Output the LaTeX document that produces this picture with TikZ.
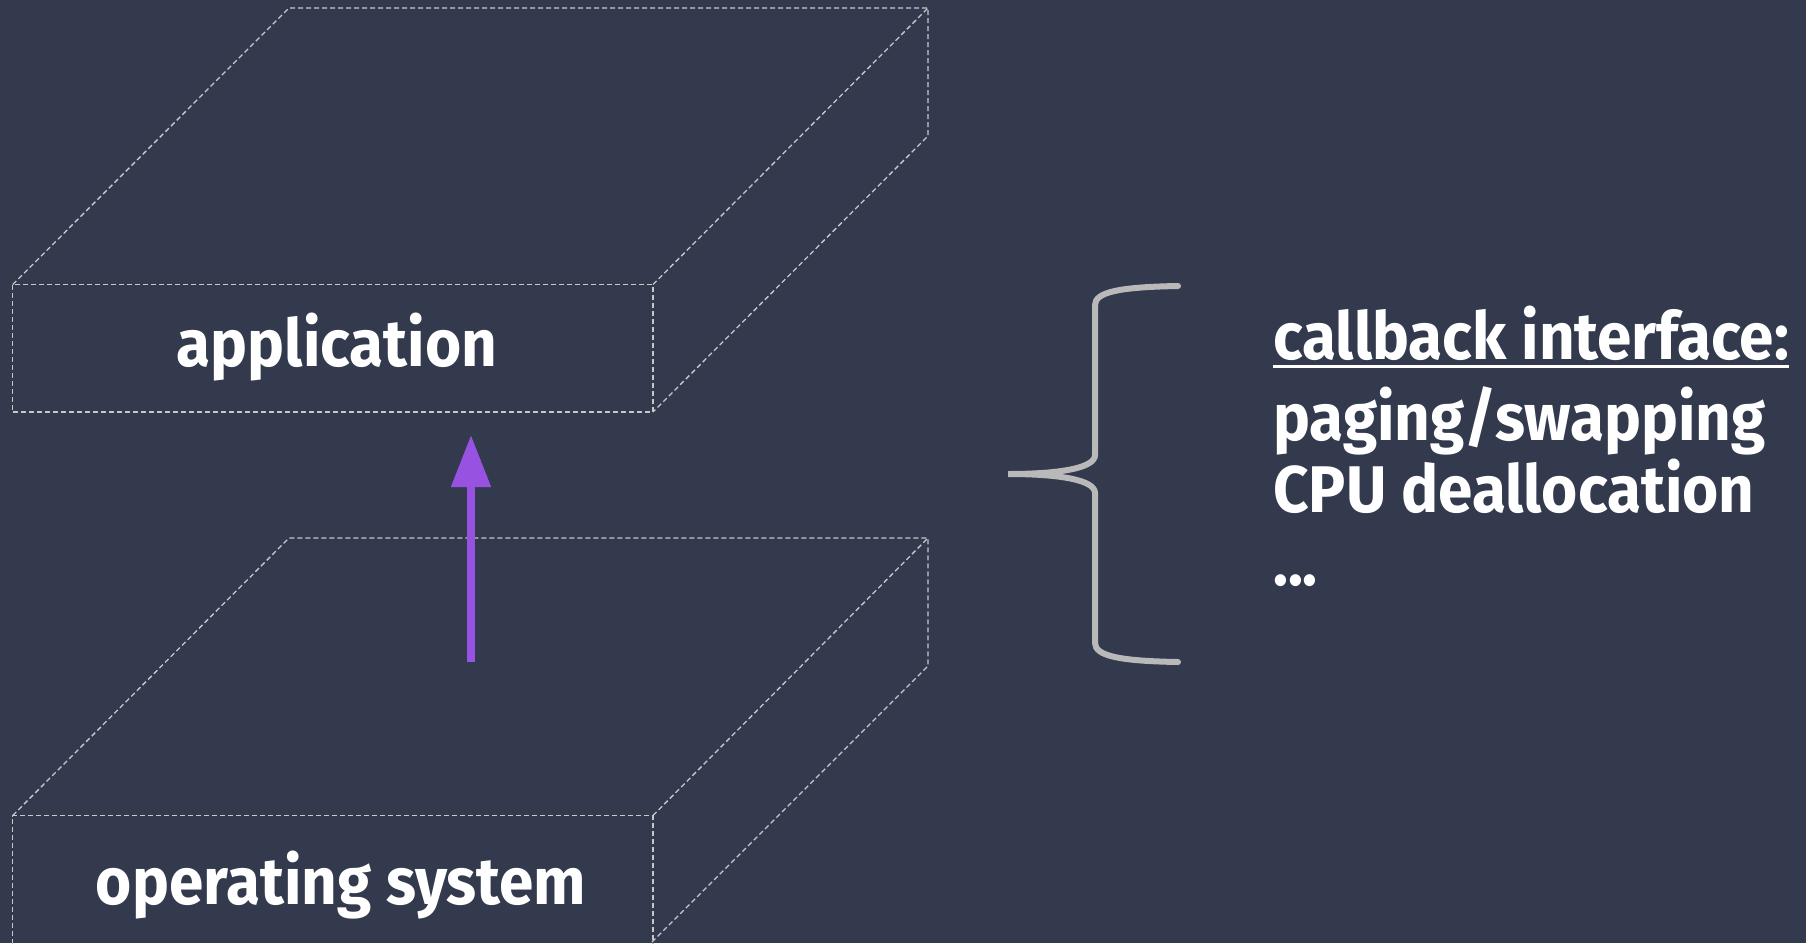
\documentclass[tikz,border=0pt]{standalone}
\usepackage{fontspec}
\setmainfont{Fira Sans}[FakeStretch=0.94]
\usetikzlibrary{arrows.meta,calc}
\definecolor{bgcol}{RGB}{51,58,78}
\definecolor{boxline}{RGB}{200,200,200}
\definecolor{bracecol}{RGB}{185,185,185}
\definecolor{arrowcol}{RGB}{152,82,226}
\begin{document}
\begin{tikzpicture}[x=1pt,y=-1pt,
  dashbox/.style={draw=boxline, dash pattern=on 5pt off 3pt, line width=1.3pt},
  lbl/.style={text=white, font=\fontsize{66}{72}\selectfont\bfseries, inner sep=0pt, anchor=base},
  rlbl/.style={text=white, font=\fontsize{66}{72}\selectfont\bfseries, inner sep=0pt, anchor=base west},
  callarrow/.style={draw=arrowcol, line width=8pt, -{Triangle[width=38pt,length=52pt]}},
  bracestyle/.style={draw=bracecol, line width=6pt, line cap=round}
]
\fill[bgcol] (0,0) rectangle (1806,943);
\useasboundingbox (0,0) rectangle (1806,943);
\clip (0,0) rectangle (1806,943);

% application box
\draw[dashbox] (12.7,284.5) rectangle (653,412);
\draw[dashbox] (12.7,284.5) -- (289,8) -- (928,8) -- (928,136) -- (653,412);
\draw[dashbox] (653,284.5) -- (928,8);
\node[lbl] (app) at (337,366) {application};

% operating system box
\draw[dashbox] (12.7,960) -- (12.7,815.5) -- (653,815.5) -- (653,960);
\draw[dashbox] (12.7,815.5) -- (289,538) -- (928,538) -- (928,666) -- (638,956);
\draw[dashbox] (653,815.5) -- (928,538);
\node[lbl] (os) at (341,904) {operating system};

% arrow
\coordinate (atail) at (471,662);
\coordinate (ahead) at (471,435);
\draw[callarrow] (atail) -- (ahead);

% brace
\coordinate (btop) at (1178,286);
\coordinate (btip) at (1008,474);
\coordinate (bbot) at (1178,662);
\draw[bracestyle] (btop) .. controls (1120,287) and (1095,292) .. (1095,305)
  -- (1095,455) .. controls (1095,468) and (1060,474) .. (btip)
  .. controls (1060,474) and (1095,480) .. (1095,493)
  -- (1095,643) .. controls (1095,656) and (1120,661) .. (bbot);

% right text
\node[rlbl] (cb) at (1273,359) {callback interface:};
\draw[white, line width=3pt] ($(cb.base west)+(0,7)$) -- ($(cb.base east)+(0,7)$);
\node[rlbl] (pg) at (1273,440) {paging/swapping};
\node[rlbl] (cpu) at (1273,512) {CPU deallocation};
\node[rlbl] (dots) at (1273,585) {...};
\end{tikzpicture}
\end{document}
